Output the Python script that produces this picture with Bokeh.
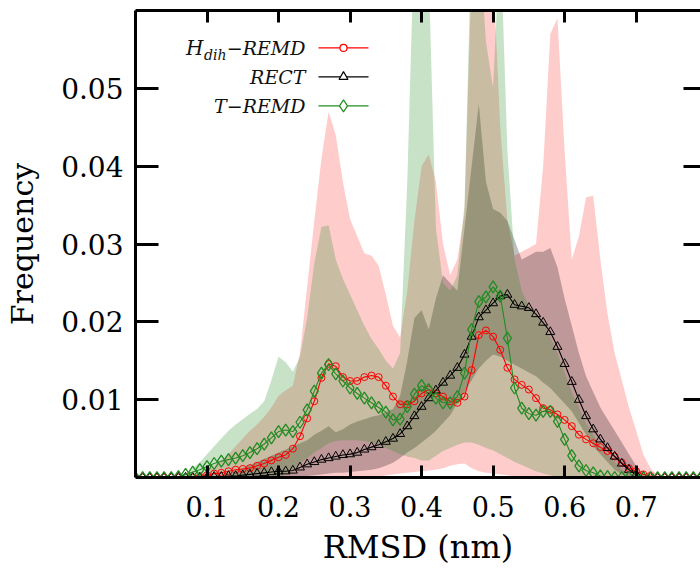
from bokeh.plotting import figure
from bokeh.models import Range1d, LinearAxis, FixedTicker, PrintfTickFormatter, CustomJSTickFormatter
from bokeh.core.properties import value
from bokeh.embed import file_html
from bokeh.resources import INLINE

# ---------------- data (RMSD bins, nm) ----------------
rmsd = [0.00, 0.01, 0.02, 0.03, 0.04, 0.05, 0.06, 0.07, 0.08, 0.09,
        0.10, 0.11, 0.12, 0.13, 0.14, 0.15, 0.16, 0.17, 0.18, 0.19,
        0.20, 0.21, 0.22, 0.23, 0.24, 0.25, 0.26, 0.27, 0.28, 0.29,
        0.30, 0.31, 0.32, 0.33, 0.34, 0.35, 0.36, 0.37, 0.38, 0.39,
        0.40, 0.41, 0.42, 0.43, 0.44, 0.45, 0.46, 0.47, 0.48, 0.49,
        0.50, 0.51, 0.52, 0.53, 0.54, 0.55, 0.56, 0.57, 0.58, 0.59,
        0.60, 0.61, 0.62, 0.63, 0.64, 0.65, 0.66, 0.67, 0.68, 0.69,
        0.70, 0.71, 0.72, 0.73, 0.74, 0.75, 0.76, 0.77, 0.78, 0.79, 0.80]

# H_dih-REMD mean, lower and upper envelope
hdih_mean = [0, 0, 0, 0, 0, 0, 0, 0, 0, 0.0001,
             0.0003, 0.0005, 0.0006, 0.0008, 0.0010, 0.0011, 0.0012, 0.0015, 0.0018, 0.0022,
             0.0026, 0.0029, 0.0037, 0.0053, 0.0076, 0.0098, 0.0128, 0.0146, 0.0143, 0.0129,
             0.0124, 0.0124, 0.0129, 0.0131, 0.0129, 0.0118, 0.0104, 0.0094, 0.0094, 0.0098,
             0.0108, 0.0113, 0.0108, 0.0104, 0.0098, 0.0096, 0.0104, 0.0138, 0.0183, 0.0189,
             0.0181, 0.0164, 0.0141, 0.0126, 0.0119, 0.0113, 0.0102, 0.0089, 0.0087, 0.0081,
             0.0074, 0.0066, 0.0055, 0.0049, 0.0044, 0.0039, 0.0034, 0.0027, 0.0019, 0.0012,
             0.0008, 0.0004, 0.0002, 0, 0, 0, 0, 0, 0, 0, 0]
hdih_low = [0, 0, 0, 0, 0, 0, 0, 0, 0, 0,
            0, 0, 0, 0, 0, 0, 0, 0, 0, 0,
            0, 0, 0, 0, 0, 0, 0, 0, 0, 0,
            0, 0, 0, 0, 0, 0.0003, 0.0004, 0.0005, 0.0006, 0.0007,
            0.0008, 0.0009, 0.0010, 0.0012, 0.0015, 0.0017, 0.0018, 0.0012, 0.0008, 0.0006,
            0.0005, 0.0004, 0.0003, 0, 0, 0, 0, 0, 0, 0,
            0, 0, 0, 0, 0, 0, 0, 0, 0, 0,
            0, 0, 0, 0, 0, 0, 0, 0, 0, 0, 0]
hdih_high = [0, 0, 0, 0, 0, 0, 0, 0, 0, 0.0003,
             0.0008, 0.0015, 0.0022, 0.0030, 0.0040, 0.0050, 0.0060, 0.0068, 0.0078, 0.0090,
             0.0105, 0.0112, 0.0118, 0.0160, 0.0245, 0.0330, 0.0410, 0.0470, 0.0440, 0.0380,
             0.0332, 0.0310, 0.0288, 0.0285, 0.0272, 0.0235, 0.0195, 0.0180, 0.0240, 0.0330,
             0.0400, 0.0415, 0.0380, 0.0300, 0.0260, 0.0280, 0.0340, 0.0650, 0.0700, 0.0680,
             0.0650, 0.0450, 0.0330, 0.0285, 0.0290, 0.0295, 0.0300, 0.0400, 0.0570, 0.0590,
             0.0420, 0.0280, 0.0310, 0.0360, 0.0362, 0.0280, 0.0210, 0.0160, 0.0125, 0.0090,
             0.0060, 0.0030, 0.0012, 0.0003, 0, 0, 0, 0, 0, 0, 0]

# RECT mean, lower and upper envelope
rect_mean = [0, 0, 0, 0, 0, 0, 0, 0, 0, 0,
             0, 0.0001, 0.0001, 0.0002, 0.0002, 0.0003, 0.0004, 0.0005, 0.0006, 0.0007,
             0.0008, 0.0008, 0.0009, 0.0013, 0.0017, 0.0020, 0.0023, 0.0025, 0.0027, 0.0029,
             0.0030, 0.0032, 0.0036, 0.0039, 0.0042, 0.0046, 0.0050, 0.0056, 0.0066, 0.0079,
             0.0091, 0.0102, 0.0112, 0.0122, 0.0131, 0.0141, 0.0158, 0.0181, 0.0206, 0.0215,
             0.0224, 0.0233, 0.0235, 0.0222, 0.0220, 0.0218, 0.0210, 0.0199, 0.0187, 0.0168,
             0.0146, 0.0123, 0.0100, 0.0079, 0.0062, 0.0049, 0.0038, 0.0027, 0.0018, 0.0010,
             0.0004, 0.0001, 0, 0, 0, 0, 0, 0, 0, 0, 0]
rect_low = [0, 0, 0, 0, 0, 0, 0, 0, 0, 0,
            0, 0, 0, 0, 0, 0, 0, 0, 0, 0,
            0, 0, 0, 0.0001, 0.0002, 0.0003, 0.0004, 0.0005, 0.0006, 0.0006,
            0.0007, 0.0008, 0.0009, 0.0010, 0.0012, 0.0015, 0.0019, 0.0025, 0.0032, 0.0038,
            0.0045, 0.0052, 0.0060, 0.0070, 0.0080, 0.0095, 0.0110, 0.0125, 0.0140, 0.0150,
            0.0158, 0.0155, 0.0150, 0.0145, 0.0140, 0.0135, 0.0130, 0.0122, 0.0115, 0.0105,
            0.0095, 0.0085, 0.0070, 0.0055, 0.0040, 0.0030, 0.0020, 0.0010, 0.0004, 0,
            0, 0, 0, 0, 0, 0, 0, 0, 0, 0, 0]
rect_high = [0, 0, 0, 0, 0, 0, 0, 0, 0, 0,
             0, 0.0002, 0.0004, 0.0006, 0.0009, 0.0012, 0.0016, 0.0020, 0.0024, 0.0028,
             0.0032, 0.0036, 0.0040, 0.0044, 0.0048, 0.0055, 0.0060, 0.0066, 0.0058, 0.0062,
             0.0068, 0.0072, 0.0075, 0.0078, 0.0080, 0.0084, 0.0088, 0.0105, 0.0150, 0.0205,
             0.0215, 0.0190, 0.0230, 0.0260, 0.0250, 0.0240, 0.0320, 0.0400, 0.0480, 0.0380,
             0.0345, 0.0340, 0.0330, 0.0305, 0.0280, 0.0285, 0.0290, 0.0290, 0.0295, 0.0270,
             0.0230, 0.0195, 0.0160, 0.0130, 0.0110, 0.0090, 0.0075, 0.0060, 0.0045, 0.0030,
             0.0015, 0.0005, 0, 0, 0, 0, 0, 0, 0, 0, 0]

# T-REMD mean, lower and upper envelope
tremd_mean = [0, 0, 0, 0, 0, 0, 0.0001, 0.0004, 0.0007, 0.0010,
              0.0014, 0.0018, 0.0021, 0.0023, 0.0025, 0.0028, 0.0032, 0.0037, 0.0043, 0.0051,
              0.0059, 0.0061, 0.0059, 0.0071, 0.0087, 0.0111, 0.0134, 0.0145, 0.0133, 0.0124,
              0.0115, 0.0108, 0.0102, 0.0096, 0.0090, 0.0084, 0.0074, 0.0075, 0.0091, 0.0107,
              0.0118, 0.0113, 0.0102, 0.0096, 0.0096, 0.0104, 0.0134, 0.0190, 0.0226, 0.0232,
              0.0245, 0.0233, 0.0179, 0.0115, 0.0089, 0.0082, 0.0080, 0.0085, 0.0085, 0.0072,
              0.0049, 0.0028, 0.0015, 0.0009, 0.0006, 0.0002, 0.0001, 0, 0, 0,
              0, 0, 0, 0, 0, 0, 0, 0, 0, 0, 0]
tremd_low = [0, 0, 0, 0, 0, 0, 0, 0, 0, 0,
             0, 0, 0, 0, 0, 0, 0, 0, 0, 0,
             0, 0.0005, 0.0010, 0.0018, 0.0025, 0.0032, 0.0038, 0.0044, 0.0047, 0.0048,
             0.0048, 0.0048, 0.0047, 0.0045, 0.0042, 0.0038, 0.0034, 0.0030, 0.0027, 0.0025,
             0.0022, 0.0022, 0.0028, 0.0034, 0.0038, 0.0042, 0.0045, 0.0045, 0.0042, 0.0038,
             0.0035, 0.0030, 0.0025, 0.0020, 0.0016, 0.0012, 0.0008, 0.0005, 0.0003, 0,
             0, 0, 0, 0, 0, 0, 0, 0, 0, 0,
             0, 0, 0, 0, 0, 0, 0, 0, 0, 0, 0]
tremd_high = [0, 0, 0, 0, 0, 0, 0, 0.0005, 0.0012, 0.0020,
              0.0030, 0.0040, 0.0050, 0.0060, 0.0068, 0.0075, 0.0082, 0.0088, 0.0098, 0.0125,
              0.0155, 0.0148, 0.0136, 0.0155, 0.0205, 0.0275, 0.0322, 0.0324, 0.0280, 0.0255,
              0.0235, 0.0215, 0.0195, 0.0178, 0.0165, 0.0150, 0.0140, 0.0160, 0.0380, 0.0700,
              0.0700, 0.0650, 0.0320, 0.0250, 0.0240, 0.0260, 0.0350, 0.0700, 0.0700, 0.0560,
              0.0500, 0.0700, 0.0420, 0.0280, 0.0240, 0.0220, 0.0210, 0.0200, 0.0180, 0.0160,
              0.0135, 0.0110, 0.0090, 0.0070, 0.0055, 0.0040, 0.0030, 0.0020, 0.0010, 0.0005,
              0, 0, 0, 0, 0, 0, 0, 0, 0, 0, 0]

x_ticks = [0.1, 0.2, 0.3, 0.4, 0.5, 0.6, 0.7]
y_ticks = [0.01, 0.02, 0.03, 0.04, 0.05]
legend_labels = ["RECT", "T\u2212REMD"]

# ---------------- styling ----------------
FONT = "DejaVu Serif"
RED = "#ff0000"
BLACK = "#000000"
GREEN = "#228b22"

p = figure(width=700, height=568, output_backend="svg", toolbar_location=None,
           x_range=Range1d(0, 0.79), y_range=Range1d(0, 0.06),
           min_border_left=135, min_border_right=0, min_border_top=10,
           min_border_bottom=90)
p.grid.visible = False
p.outline_line_color = None
p.background_fill_color = "white"
p.border_fill_color = "white"

# envelopes
p.varea(x=rmsd, y1=hdih_low, y2=hdih_high, fill_color=RED, fill_alpha=0.2)
p.varea(x=rmsd, y1=rect_low, y2=rect_high, fill_color=BLACK, fill_alpha=0.25)
p.varea(x=rmsd, y1=tremd_low, y2=tremd_high, fill_color=GREEN, fill_alpha=0.25)

# mean curves
p.line(rmsd, hdih_mean, line_color=RED, line_width=1.1)
p.scatter(rmsd, hdih_mean, marker="circle", size=7, line_color=RED,
          fill_color=None, line_width=1)
p.line(rmsd, rect_mean, line_color=BLACK, line_width=1.1)
p.scatter(rmsd, rect_mean, marker="triangle", size=9, line_color=BLACK,
          fill_color=None, line_width=1)
p.line(rmsd, tremd_mean, line_color=GREEN, line_width=1.1)
p.scatter(rmsd, tremd_mean, marker="diamond", size=12, line_color=GREEN,
          fill_color=None, line_width=1.3)

# axes
def style_axis(ax, ticks, tick_in):
    ax.ticker = FixedTicker(ticks=ticks)
    ax.major_tick_in = tick_in
    ax.major_tick_out = 0
    ax.minor_tick_in = 0
    ax.minor_tick_out = 0
    ax.axis_line_width = 3
    ax.major_tick_line_width = 3
    ax.major_label_text_font = FONT
    ax.major_label_text_color = "black"
    ax.axis_label_text_font = FONT
    ax.axis_label_text_color = "black"
    ax.axis_label_text_font_style = "normal"

xa = p.xaxis[0]
style_axis(xa, x_ticks, 12)
xa.formatter = PrintfTickFormatter(format="%.1f")
xa.major_label_text_font_size = "27px"
xa.major_label_standoff = 18
xa.axis_label = "RMSD (nm)"
xa.axis_label_text_font_size = "32px"
xa.axis_label_standoff = 8

ya = p.yaxis[0]
style_axis(ya, y_ticks, 23)
ya.formatter = PrintfTickFormatter(format="%.2f")
ya.major_label_text_font_size = "28px"
ya.major_label_standoff = 12
ya.axis_label = "Frequency"
ya.axis_label_text_font_size = "30px"
ya.axis_label_standoff = 18

blank = CustomJSTickFormatter(code="return ''")

top = LinearAxis()
style_axis(top, x_ticks, 12)
top.formatter = blank
top.major_label_text_font_size = "1px"
top.major_label_standoff = 0
p.add_layout(top, "above")

right = LinearAxis()
style_axis(right, y_ticks, 17)
right.formatter = blank
right.axis_line_color = None
right.major_label_text_font_size = "1px"
right.major_label_standoff = 0
p.add_layout(right, "right")

# legend drawn in a pixel-space overlay range (gnuplot style: text, then sample)
p.extra_x_ranges = {"px": Range1d(135, 700)}
p.extra_y_ranges = {"py": Range1d(478, 10)}
rows_y = [47.5, 76.5, 105.5]
txt_right, sample_x0, sample_x1, sample_mid = 305, 318, 368, 343
colors = [RED, BLACK, GREEN]
markers = ["circle", "triangle", "diamond"]
msizes = [7, 9, 12]
for ry, c, m, ms in zip(rows_y, colors, markers, msizes):
    p.line([sample_x0, sample_x1], [ry, ry], line_color=c, line_width=1.2,
           x_range_name="px", y_range_name="py")
    p.scatter([sample_mid], [ry], marker=m, size=ms, line_color=c,
              fill_color="white", line_width=1.2,
              x_range_name="px", y_range_name="py")

tkw = dict(text_font=value(FONT), text_font_style="italic", text_color="#111111",
           text_baseline="middle", text_align="right",
           x_range_name="px", y_range_name="py")
p.text(x=[txt_right], y=[rows_y[0]], text=["\u2212REMD"], text_font_size="19px", **tkw)
p.text(x=[txt_right - 79], y=[rows_y[0] + 7], text=["dih"], text_font_size="14px", **tkw)
p.text(x=[txt_right - 102], y=[rows_y[0]], text=["H"], text_font_size="20px", **tkw)
p.text(x=[txt_right, txt_right], y=rows_y[1:], text=legend_labels,
       text_font_size="19px", **tkw)

open("out.html", "w").write(file_html(p, INLINE))
